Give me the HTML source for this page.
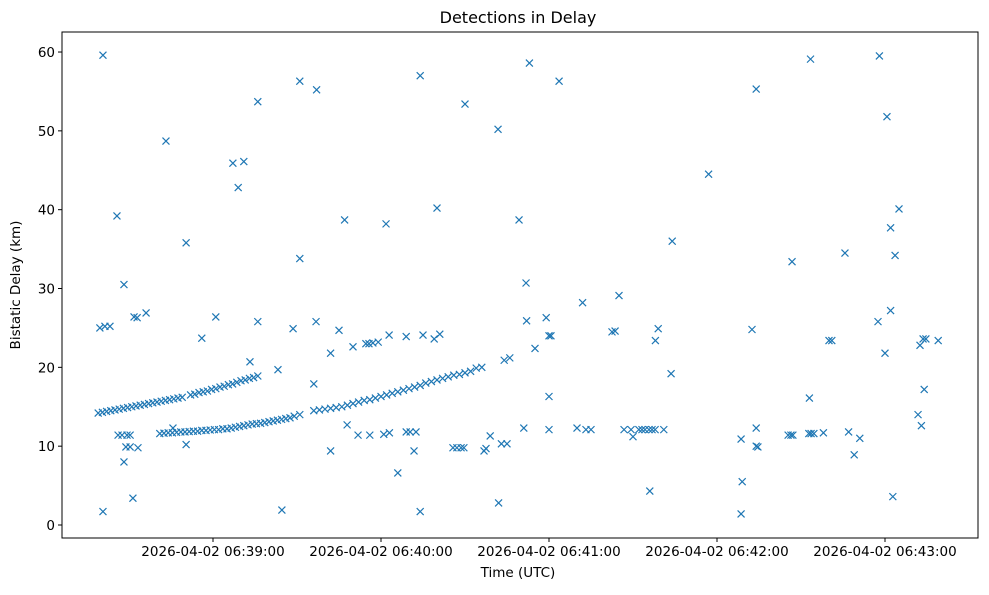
<!DOCTYPE html>
<html><head><meta charset="utf-8"><style>
body{margin:0;background:#fff;font-family:"Liberation Sans","DejaVu Sans",sans-serif}
svg text{font-family:"DejaVu Sans","Liberation Sans",sans-serif;fill:#000}
</style></head><body>
<svg id="chart" width="989" height="590" xmlns="http://www.w3.org/2000/svg">
<rect width="989" height="590" fill="#fff"/>
<text x="518" y="23" font-size="16" text-anchor="middle">Detections in Delay</text>
<text x="518" y="577" font-size="13.5" text-anchor="middle">Time (UTC)</text>
<text x="20" y="285" font-size="13.5" text-anchor="middle" transform="rotate(-90 20 285)">Bistatic Delay (km)</text>
<g id="ticks"></g>
<g id="marks"></g>
<rect x="62" y="32" width="916" height="506" fill="none" stroke="#000" stroke-width="1"/>
</svg>
<script>
// seconds after 06:38:00
const times = [
19,20.5,22,23.5,25,26.5,28,29.5,31,32.5,34,35.5,37,38.5,40,41.5,43,44.5,46,47.5,49,52,53.5,55,56.5,58,59.5,61,62.5,64,65.5,67,68.5,70,71.5,73,74.5,76,
41,42.5,44,45.5,47,48.5,50,51.5,53,54.5,56,57.5,59,60.5,62,63.5,65,66.5,68,69.5,71,72.5,74,75.5,77,78.5,80,81.5,83,84.5,86,87.5,89,91,
96,98,100,102,104,106,108,110,112,114,116,118,120,122,124,126,128,130,132,134,136,138,140,142,144,146,148,150,152,
20.7,20.7,19.6,21.4,23.2,25.7,26.1,27.5,29.3,30.4,28.2,28.2,28.9,30.4,31.4,31.8,32.9,33.2,36.1,43.2,45.7,50.4,50.4,56,61,67.1,69,71,73.2,76,76,83.2,84.6,88.6,91,91,96,97,96.8,102,102,105,107,107.9,110,111.8,114.6,115.7,117.1,116,119,121,121.8,122.9,123,126,129,129,130.4,131.8,132.5,134,134,135,139,140,141,145.7,147.1,148.6,149.6,150,154,156,156.8,157.5,159,161.8,162,163,165,164,166,169.3,171,171.8,172,173,175,179,180,180.7,180,180,183.6,190,192,193.2,195,202.5,203.6,205,206.8,209.3,210,212.1,213.2,214.3,215.7,216.8,217.9,216,218,219,221,223.6,224,237,248.6,249,248.6,252.5,254,254,254,254.6,265.4,266.4,267.1,266.8,272.8,273.6,274.6,273,273.4,278,280,281,285.7,287,289,291,297.5,298,300,300.7,302,302,302.8,303.6,305,311.8,312.5,313,313.6,314.6,314,319
];
const delays = [
14.2,14.3,14.4,14.5,14.6,14.7,14.8,14.9,15.0,15.1,15.2,15.3,15.4,15.5,15.6,15.7,15.8,15.9,16.0,16.1,16.2,16.5,16.6,16.8,16.9,17.0,17.2,17.3,17.5,17.6,17.8,17.9,18.1,18.3,18.4,18.6,18.7,18.9,
11.6,11.65,11.7,11.7,11.75,11.8,11.8,11.85,11.9,11.9,12.0,12.0,12.05,12.1,12.1,12.2,12.2,12.3,12.4,12.5,12.6,12.7,12.8,12.85,12.9,13.0,13.1,13.2,13.3,13.4,13.5,13.6,13.8,14.0,
14.5,14.6,14.7,14.8,14.9,15.0,15.2,15.4,15.6,15.8,15.9,16.1,16.3,16.5,16.7,16.9,17.1,17.3,17.5,17.7,18.0,18.2,18.4,18.6,18.8,19.0,19.1,19.3,19.5,
1.7,59.6,25.0,25.2,25.2,39.2,11.4,11.4,11.4,11.4,30.5,8.0,9.9,9.9,3.4,26.4,26.3,9.8,26.9,48.7,12.3,35.8,10.2,23.7,26.4,45.9,42.8,46.1,20.7,53.7,25.8,19.7,1.9,24.9,56.3,33.8,17.9,55.2,25.8,9.4,21.8,24.7,38.7,12.7,22.6,11.4,23.0,23.0,23.1,11.4,23.2,11.5,38.2,24.1,11.7,6.6,23.9,11.8,11.8,9.4,11.8,57,1.7,24.1,23.6,40.2,24.2,9.8,9.8,9.8,9.8,53.4,19.9,20.0,9.4,9.7,11.3,50.2,2.8,10.3,10.3,20.9,21.2,38.7,12.3,30.7,25.9,58.6,22.4,26.3,24.0,24.0,16.3,12.1,56.3,12.3,28.2,12.1,12.1,24.5,24.6,29.1,12.1,12.1,11.2,12.1,12.1,12.1,12.1,12.1,12.1,4.3,23.4,24.9,12.1,19.2,36.0,44.5,10.9,5.5,1.4,24.8,55.3,12.3,10.0,9.9,11.4,11.4,11.4,33.4,11.6,11.6,11.6,16.1,59.1,11.7,23.4,23.4,34.5,11.8,8.9,11.0,25.8,59.5,21.8,51.8,37.7,27.2,3.6,34.2,40.1,14.0,22.8,12.6,23.6,23.6,17.2,23.4
];
const xTickVals = [60,120,180,240,300];
const xTickLabels = ["2026-04-02 06:39:00","2026-04-02 06:40:00","2026-04-02 06:41:00","2026-04-02 06:42:00","2026-04-02 06:43:00"];
const yTickVals = [0,10,20,30,40,50,60];

const NS="http://www.w3.org/2000/svg";
function xs(t){return 45+2.8*t;}
function ys(d){return 525-7.883*d;}
const tg=document.getElementById('ticks');
xTickVals.forEach((v,i)=>{
  const x=xs(v);
  const l=document.createElementNS(NS,'line');
  l.setAttribute('x1',x);l.setAttribute('x2',x);l.setAttribute('y1',538);l.setAttribute('y2',542);l.setAttribute('stroke','#000');
  
  
  tg.appendChild(l);
  const t=document.createElementNS(NS,'text');
  t.setAttribute('x',x);t.setAttribute('y',556);t.setAttribute('font-size','13.5');t.setAttribute('text-anchor','middle');
  t.textContent=xTickLabels[i];
  
  
  tg.appendChild(t);
});
yTickVals.forEach(v=>{
  const y=ys(v);
  const l=document.createElementNS(NS,'line');
  l.setAttribute('x1',58);l.setAttribute('x2',62);l.setAttribute('y1',y);l.setAttribute('y2',y);l.setAttribute('stroke','#000');
  
  
  tg.appendChild(l);
  const t=document.createElementNS(NS,'text');
  t.setAttribute('x',55);t.setAttribute('y',y+5);t.setAttribute('font-size','13.5');t.setAttribute('text-anchor','end');
  t.textContent=v;
  
  
  tg.appendChild(t);
});
const mg=document.getElementById('marks');
times.forEach((tv,i)=>{
  const x=xs(tv),y=ys(delays[i]),s=3.5;
  const p=document.createElementNS(NS,'path');
  p.setAttribute('d',`M${x-s} ${y-s}L${x+s} ${y+s}M${x-s} ${y+s}L${x+s} ${y-s}`);
  p.setAttribute('stroke','#1f77b4');p.setAttribute('stroke-width','1.2');p.setAttribute('fill','none');
  
  
  mg.appendChild(p);
});
</script>
</body></html>
